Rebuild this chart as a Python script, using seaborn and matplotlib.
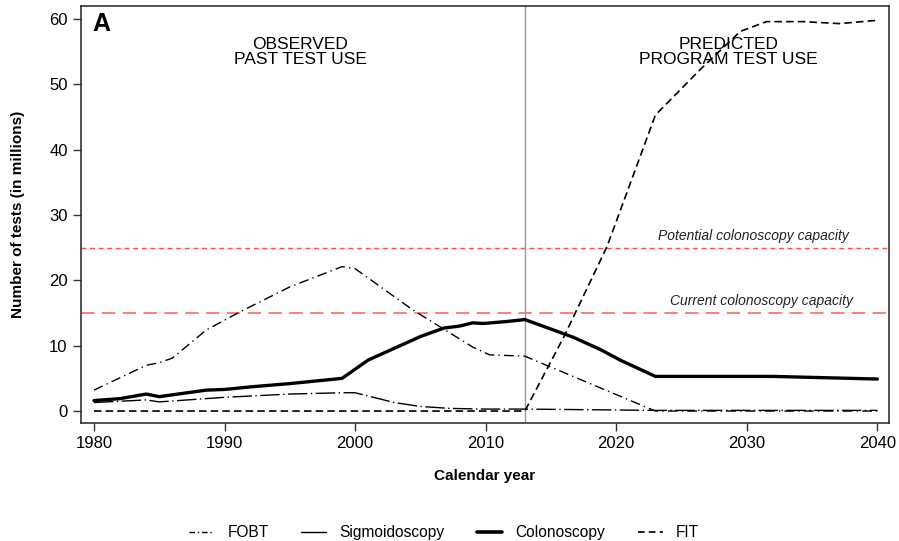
import numpy as np
import pandas as pd
import matplotlib
matplotlib.use("Agg")
import matplotlib.pyplot as plt
from matplotlib.lines import Line2D
import seaborn as sns

# ---- data (millions of tests) ----
fobt_years = [1980, 1984, 1985, 1986, 1988.6, 1991.2, 1995, 1999, 2000, 2004.4, 2009, 2010.3, 2013, 2023, 2040]
fobt_vals  = [3.2, 7.0, 7.4, 8.1, 12.4, 15.2, 19.0, 22.1, 21.8, 15.5, 9.8, 8.6, 8.4, 0.0, 0.0]

sig_years = [1980, 1984, 1985, 1990, 1995, 1999, 2000, 2001, 2003, 2005, 2007.3, 2010, 2013, 2023, 2040]
sig_vals  = [1.3, 1.7, 1.4, 2.1, 2.6, 2.8, 2.8, 2.3, 1.3, 0.7, 0.4, 0.3, 0.3, 0.1, 0.1]

col_years = [1980, 1982, 1984, 1985, 1988.6, 1990, 1992, 1995, 1999, 2001, 2003, 2005, 2006.8, 2008,
             2009, 2009.8, 2011.6, 2013, 2015.2, 2016.7, 2018.8, 2020.3, 2023, 2032, 2040]
col_vals  = [1.6, 1.9, 2.6, 2.2, 3.2, 3.3, 3.7, 4.2, 5.0, 7.8, 9.6, 11.4, 12.7, 13.0,
             13.5, 13.4, 13.7, 14.0, 12.4, 11.3, 9.4, 7.8, 5.3, 5.3, 4.9]

fit_years = [1980, 2013, 2016, 2019.3, 2023, 2026.4, 2029.5, 2031.5, 2034.3, 2037.1, 2040]
fit_vals  = [0.0, 0.0, 11.4, 25.2, 45.3, 52.2, 58.1, 59.6, 59.6, 59.3, 59.8]

series_names = ["FOBT", "Sigmoidoscopy", "Colonoscopy", "FIT"]
current_capacity = 15
potential_capacity = 25
split_year = 2013

df = pd.concat([
    pd.DataFrame({"year": fobt_years, "tests": fobt_vals, "test": "FOBT"}),
    pd.DataFrame({"year": sig_years, "tests": sig_vals, "test": "Sigmoidoscopy"}),
    pd.DataFrame({"year": col_years, "tests": col_vals, "test": "Colonoscopy"}),
    pd.DataFrame({"year": fit_years, "tests": fit_vals, "test": "FIT"}),
], ignore_index=True)

sns.set_theme(style="ticks")
plt.rcParams["font.family"] = ["Liberation Sans", "DejaVu Sans"]
plt.rcParams["text.color"] = "black"
plt.rcParams["axes.labelcolor"] = "black"
plt.rcParams["xtick.color"] = "black"
plt.rcParams["ytick.color"] = "black"

fig = plt.figure(figsize=(8.99, 5.41), dpi=100)
ax = fig.add_axes([0.090, 0.218, 0.899, 0.771])

styles = {
    "FOBT": dict(ls=(0, (7, 3, 1, 3)), lw=1.0),
    "Sigmoidoscopy": dict(ls=(0, (14, 2.5, 1, 2.5)), lw=1.0),
    "Colonoscopy": dict(ls="-", lw=2.4),
    "FIT": dict(ls=(0, (4.5, 2.5)), lw=1.2),
}

# capacity lines
ax.axhline(potential_capacity, color="#ff4a4a", lw=1.0, ls=(0, (3.5, 2.7)), zorder=1)
ax.axhline(current_capacity, color="#ff6666", lw=1.2, ls=(0, (8, 4.5)), zorder=1)
ax.axvline(split_year, color="#999999", lw=1.0, zorder=1)

for name in series_names:
    sub = df[df["test"] == name]
    sns.lineplot(data=sub, x="year", y="tests", ax=ax, color="black",
                 linestyle=styles[name]["ls"], linewidth=styles[name]["lw"],
                 estimator=None, sort=True, zorder=3, legend=False)

handles = [
    Line2D([], [], color="black", ls=(0, (4, 2, 1, 2)), lw=1.0),
    Line2D([], [], color="black", ls="-", lw=1.0),
    Line2D([], [], color="black", ls="-", lw=2.6),
    Line2D([], [], color="black", ls=(0, (4, 2.5)), lw=1.2),
]

ax.set_xlim(1979.0, 2040.9)
ax.set_ylim(-1.84, 62.0)
ax.set_xticks([1980, 1990, 2000, 2010, 2020, 2030, 2040])
ax.set_yticks([0, 10, 20, 30, 40, 50, 60])
ax.tick_params(axis="both", labelsize=12, length=6, width=1, color="#333333", labelcolor="black")
for s in ax.spines.values():
    s.set_linewidth(1.1)
    s.set_color("#222222")

ax.set_xlabel("Calendar year", fontsize=11, fontweight="bold", labelpad=13)
ax.set_ylabel("Number of tests (in millions)", fontsize=11, fontweight="bold", labelpad=17)

ax.text(1979.9, 58.2, "A", fontsize=18, fontweight="bold", ha="left", va="baseline")
ax.text(1995.8, 55.0, "OBSERVED\nPAST TEST USE", fontsize=12.5, ha="center", va="center", linespacing=1.02)
ax.text(2028.6, 55.0, "PREDICTED\nPROGRAM TEST USE", fontsize=12.5, ha="center", va="center", linespacing=1.02)
ax.text(2037.8, potential_capacity + 0.7, "Potential colonoscopy capacity", fontsize=10,
        style="italic", ha="right", va="bottom", color="#222222")
ax.text(2038.1, current_capacity + 0.7, "Current colonoscopy capacity", fontsize=10,
        style="italic", ha="right", va="bottom", color="#222222")

fig.legend(handles=handles, labels=series_names, loc="center", bbox_to_anchor=(0.494, 0.015),
           ncol=4, frameon=False, fontsize=11.2, handlelength=1.6, columnspacing=2.1, handletextpad=0.85)

fig.savefig("out.png", dpi=100)
